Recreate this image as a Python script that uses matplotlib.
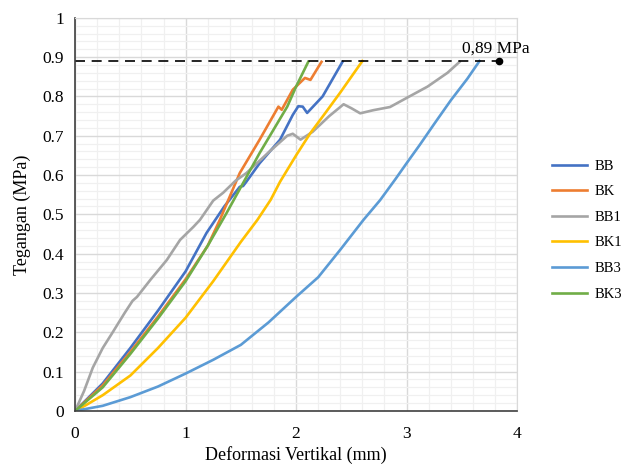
import matplotlib
matplotlib.use("Agg")
from matplotlib import pyplot as plt
from matplotlib.ticker import MultipleLocator, FuncFormatter

plt.rcParams['font.family'] = ['Liberation Serif', 'DejaVu Serif']

# Data (deformation mm, stress MPa)
bb_x = [0, 0.25, 0.5, 0.75, 1.0, 1.19, 1.35, 1.49, 1.52, 1.55, 1.67, 1.855, 1.97, 2.02, 2.06, 2.1, 2.24, 2.42]
bb_y = [0, 0.07, 0.16, 0.255, 0.355, 0.453, 0.52, 0.57, 0.572, 0.583, 0.63, 0.69, 0.753, 0.775, 0.774, 0.758, 0.8, 0.888]

bk_x = [0, 0.25, 0.5, 0.75, 1.0, 1.2, 1.31, 1.49, 1.67, 1.84, 1.87, 1.97, 2.08, 2.13, 2.23]
bk_y = [0, 0.065, 0.15, 0.24, 0.335, 0.42, 0.486, 0.605, 0.69, 0.774, 0.766, 0.817, 0.847, 0.842, 0.888]

bb1_x = [0, 0.08, 0.16, 0.25, 0.34, 0.45, 0.52, 0.56, 0.68, 0.83, 0.95, 1.07, 1.13, 1.25, 1.34, 1.45,
         1.55, 1.76, 1.92, 1.97, 2.04, 2.15, 2.3, 2.43, 2.5, 2.58, 2.7, 2.85, 3.0, 3.19, 3.37, 3.48]
bb1_y = [0, 0.05, 0.11, 0.16, 0.2, 0.25, 0.28, 0.29, 0.333, 0.384, 0.435, 0.468, 0.486, 0.535, 0.555, 0.585,
         0.605, 0.66, 0.70, 0.705, 0.69, 0.71, 0.75, 0.78, 0.77, 0.757, 0.765, 0.773, 0.796, 0.825, 0.86, 0.888]

bk1_x = [0, 0.1, 0.25, 0.5, 0.75, 1.0, 1.25, 1.5, 1.65, 1.77, 1.855, 2.0, 2.13, 2.27, 2.4, 2.5, 2.6]
bk1_y = [0, 0.015, 0.04, 0.09, 0.16, 0.237, 0.33, 0.43, 0.486, 0.537, 0.583, 0.65, 0.707, 0.76, 0.81, 0.85, 0.89]

bb3_x = [0, 0.25, 0.5, 0.75, 1.0, 1.25, 1.5, 1.75, 2.0, 2.2, 2.4, 2.61, 2.76, 2.9, 3.0, 3.12, 3.25, 3.4, 3.55, 3.66]
bb3_y = [0, 0.013, 0.035, 0.062, 0.095, 0.13, 0.168, 0.225, 0.29, 0.34, 0.41, 0.486, 0.536, 0.59, 0.63,
         0.677, 0.73, 0.79, 0.845, 0.89]

bk3_x = [0, 0.25, 0.5, 0.75, 1.0, 1.2, 1.37, 1.67, 1.92, 2.0, 2.11]
bk3_y = [0, 0.06, 0.145, 0.235, 0.33, 0.42, 0.503, 0.656, 0.774, 0.825, 0.888]

limit_y = 0.89
limit_x_end = 3.84

fig = plt.figure(figsize=(6.26, 4.68), dpi=100)
ax = fig.add_axes([0.12, 0.122, 0.706, 0.84])

lw = 1.9
ax.plot(bb_x, bb_y, color='#4472C4', lw=lw, label='BB')
ax.plot(bk_x, bk_y, color='#ED7D31', lw=lw, label='BK')
ax.plot(bb1_x, bb1_y, color='#A5A5A5', lw=lw, label='BB1')
ax.plot(bk1_x, bk1_y, color='#FFC000', lw=lw, label='BK1')
ax.plot(bb3_x, bb3_y, color='#5B9BD5', lw=lw, label='BB3')
ax.plot(bk3_x, bk3_y, color='#70AD47', lw=lw, label='BK3')

# 0,89 MPa limit line
ax.plot([0, limit_x_end], [limit_y, limit_y], color='black', lw=1.2, ls=(0, (6, 4)))
ax.plot([limit_x_end], [limit_y], 'o', color='black', ms=4.5)
ax.text(limit_x_end - 0.03, limit_y + 0.012, '0,89 MPa', ha='center', va='bottom', fontsize=12.5)

ax.set_xlim(0, 4)
ax.set_ylim(0, 1)
ax.xaxis.set_major_locator(MultipleLocator(1))
ax.xaxis.set_minor_locator(MultipleLocator(0.2))
ax.yaxis.set_major_locator(MultipleLocator(0.1))
ax.yaxis.set_minor_locator(MultipleLocator(0.02))
ax.yaxis.set_major_formatter(FuncFormatter(lambda v, p: '%g' % round(v, 2)))

ax.grid(which='major', color='#D9D9D9', lw=1.0)
ax.grid(which='minor', color='#F0F0F0', lw=0.9)
ax.set_axisbelow(True)
ax.tick_params(which='both', length=0, labelsize=12.5)
ax.tick_params(axis='x', pad=11)
ax.tick_params(axis='y', pad=8)

for side in ['top', 'right']:
    ax.spines[side].set_color('#D9D9D9')
for side in ['left', 'bottom']:
    ax.spines[side].set_color('#404040')
    ax.spines[side].set_linewidth(1.2)

ax.set_xlabel('Deformasi Vertikal (mm)', fontsize=13, labelpad=3)
ax.set_ylabel('Tegangan (MPa)', fontsize=13, labelpad=8)

ax.legend(loc='center left', bbox_to_anchor=(1.05, 0.46), frameon=False, fontsize=10.5,
          handlelength=2.4, handletextpad=0.5, labelspacing=0.85)

fig.savefig('out.png', dpi=100)
